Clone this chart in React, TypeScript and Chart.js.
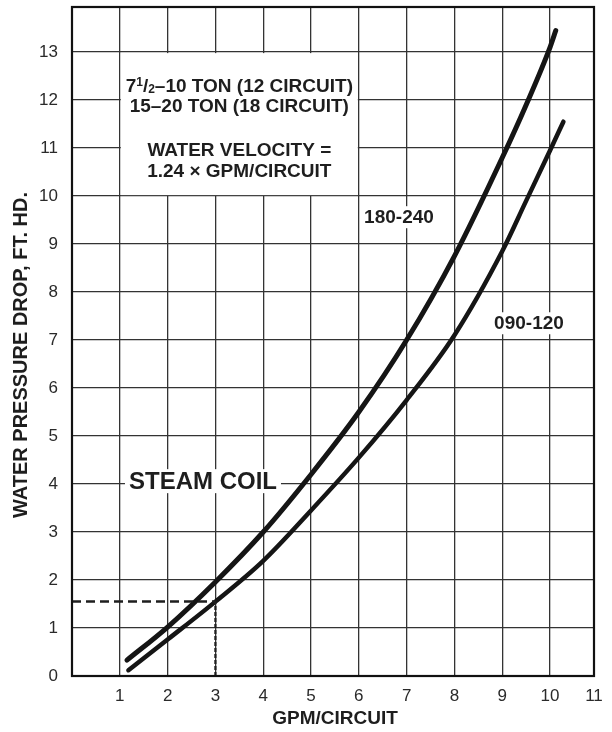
import React, { useEffect, useRef } from "react";
import { Chart, registerables } from "chart.js";

Chart.register(...registerables);

// ---- data ----
const xUpper = [1.15, 2, 3, 4, 5, 6, 7, 8, 9, 9.5, 10, 10.12];
const yUpper = [0.33, 1.02, 1.96, 3.0, 4.2, 5.5, 7.0, 8.75, 10.8, 11.9, 13.1, 13.45];
const xLower = [1.18, 2, 3, 4, 5, 6, 7, 8, 9, 9.5, 10, 10.28];
const yLower = [0.12, 0.76, 1.55, 2.4, 3.45, 4.55, 5.75, 7.1, 8.85, 9.9, 10.95, 11.55];
const xTicks = [0, 1, 2, 3, 4, 5, 6, 7, 8, 9, 10, 11];
const yTicks = [0, 1, 2, 3, 4, 5, 6, 7, 8, 9, 10, 11, 12, 13];
const xMax = 10.92;
const yMax = 13.94;
const exampleGpm = 3;
const exampleDrop = 1.55;
const labelUpper = "180-240";
const labelLower = "090-120";
const boxLines = ["15–20 TON (18 CIRCUIT)", "WATER VELOCITY =", "1.24 × GPM/CIRCUIT"];
const xTitle = "GPM/CIRCUIT";
const yTitle = "WATER PRESSURE DROP, FT. HD.";
const coilLabel = "STEAM COIL";

const FONT = "'Liberation Sans', Arial, Helvetica, sans-serif";
const INK = "#1e1e1e";

function pts(xs: number[], ys: number[]) {
  return xs.map((x, i) => ({ x, y: ys[i] }));
}

const annot = {
  id: "annot",
  beforeDatasetsDraw(chart: any) {
    const { ctx, scales } = chart;
    const sx = scales.x, sy = scales.y;
    const l = sx.getPixelForValue(1), r = sx.getPixelForValue(6);
    const t = sy.getPixelForValue(13), b = sy.getPixelForValue(10);
    ctx.save();
    ctx.fillStyle = "#fff";
    ctx.fillRect(l + 1, t + 1, r - l - 2, b - t - 2);
    ctx.restore();
  },
  afterDatasetsDraw(chart: any) {
    const { ctx, scales, chartArea } = chart;
    const sx = scales.x, sy = scales.y;
    ctx.save();
    ctx.fillStyle = INK;
    ctx.textBaseline = "middle";
    ctx.textAlign = "left";
    const cx = sx.getPixelForValue(3.5);

    const big = `bold 19px ${FONT}`;
    const small = `bold 12px ${FONT}`;
    const segs: [string, string, number][] = [
      ["7", big, 0],
      ["1", small, -4],
      ["/", big, 0],
      ["2", small, 3],
      ["–10 TON (12 CIRCUIT)", big, 0],
    ];
    let w = 0;
    for (const s of segs) { ctx.font = s[1]; w += ctx.measureText(s[0]).width; }
    let px = cx - w / 2;
    const y1 = 87;
    for (const s of segs) {
      ctx.font = s[1];
      ctx.fillText(s[0], px, y1 + s[2]);
      px += ctx.measureText(s[0]).width;
    }
    ctx.textAlign = "center";
    ctx.font = big;
    ctx.fillText(boxLines[0], cx, 107);
    ctx.fillText(boxLines[1], cx, 151);
    ctx.fillText(boxLines[2], cx, 172);

    const label = (txt: string, x: number, y: number, font: string, padX: number, h: number) => {
      ctx.font = font;
      const tw = ctx.measureText(txt).width;
      const pxl = sx.getPixelForValue(x), pyl = sy.getPixelForValue(y);
      ctx.fillStyle = "#fff";
      ctx.fillRect(pxl - tw / 2 - padX, pyl - h / 2, tw + padX * 2, h);
      ctx.fillStyle = INK;
      ctx.textAlign = "center";
      ctx.fillText(txt, pxl, pyl + 1);
    };
    label(coilLabel, 2.74, 4.06, `bold 24px ${FONT}`, 4, 24);
    label(labelUpper, 6.84, 9.56, `bold 19px ${FONT}`, 3, 22);
    label(labelLower, 9.56, 7.35, `bold 19px ${FONT}`, 3, 22);

    ctx.fillStyle = INK;
    ctx.font = `bold 19px ${FONT}`;
    ctx.textAlign = "center";
    ctx.fillText(xTitle, 335, 719);
    ctx.save();
    ctx.translate(21, 355);
    ctx.rotate(-Math.PI / 2);
    ctx.font = `bold 20px ${FONT}`;
    ctx.fillText(yTitle, 0, 0);
    ctx.restore();

    ctx.strokeStyle = "#111";
    ctx.lineWidth = 2.2;
    ctx.strokeRect(chartArea.left, chartArea.top, chartArea.right - chartArea.left, chartArea.bottom - chartArea.top);
    ctx.restore();
  },
};

export default function App() {
  const ref = useRef<HTMLCanvasElement | null>(null);
  useEffect(() => {
    if (!ref.current) return;
    const chart = new Chart(ref.current, {
      type: "line",
      data: {
        datasets: [
          {
            label: "dash-h",
            data: [{ x: 0, y: exampleDrop }, { x: exampleGpm, y: exampleDrop }],
            borderColor: INK,
            borderWidth: 2.5,
            borderDash: [9, 5],
            pointRadius: 0,
          },
          {
            label: "dash-v",
            data: [{ x: exampleGpm, y: 0 }, { x: exampleGpm, y: exampleDrop }],
            borderColor: INK,
            borderWidth: 2.2,
            borderDash: [4, 2],
            pointRadius: 0,
          },
          {
            label: labelUpper,
            data: pts(xUpper, yUpper),
            borderColor: "#151515",
            borderWidth: 5,
            borderCapStyle: "round",
            cubicInterpolationMode: "monotone",
            pointRadius: 0,
          },
          {
            label: labelLower,
            data: pts(xLower, yLower),
            borderColor: "#151515",
            borderWidth: 4.5,
            borderCapStyle: "round",
            cubicInterpolationMode: "monotone",
            pointRadius: 0,
          },
        ],
      },
      options: {
        responsive: false,
        animation: false,
        layout: { padding: { left: 0, top: 7, right: 18, bottom: 0 } },
        plugins: { legend: { display: false }, tooltip: { enabled: false } },
        scales: {
          x: {
            type: "linear",
            min: 0,
            max: xMax,
            afterBuildTicks: (axis: any) => {
              axis.ticks = xTicks.map((v) => ({ value: Math.min(v, xMax) }));
            },
            afterFit: (axis: any) => {
              axis.height = 56;
              axis.paddingLeft = 0;
              axis.paddingRight = 0;
            },
            ticks: {
              autoSkip: false,
              maxRotation: 0,
              padding: 10,
              color: "#2a2a2a",
              font: { family: FONT, size: 17 },
              callback: (_v: any, i: number) => (i === 0 ? "" : String(xTicks[i])),
            },
            grid: { color: "#333", lineWidth: 1.3, drawTicks: false },
            border: { display: false },
          },
          y: {
            type: "linear",
            min: 0,
            max: yMax,
            afterBuildTicks: (axis: any) => {
              axis.ticks = [...yTicks, yMax].map((v) => ({ value: v }));
            },
            afterFit: (axis: any) => {
              axis.width = 72;
              axis.paddingTop = 0;
              axis.paddingBottom = 0;
            },
            ticks: {
              autoSkip: false,
              padding: 14,
              color: "#2a2a2a",
              font: { family: FONT, size: 17 },
              callback: (_v: any, i: number) => (i < yTicks.length ? String(yTicks[i]) : ""),
            },
            grid: { color: "#333", lineWidth: 1.3, drawTicks: false },
            border: { display: false },
          },
        },
      },
      plugins: [annot],
    } as any);
    return () => chart.destroy();
  }, []);
  return (
    <div style={{ position: "absolute", left: 0, top: 0, width: 612, height: 732, background: "#fff" }}>
      <canvas ref={ref} width={612} height={732} style={{ display: "block" }} />
    </div>
  );
}
